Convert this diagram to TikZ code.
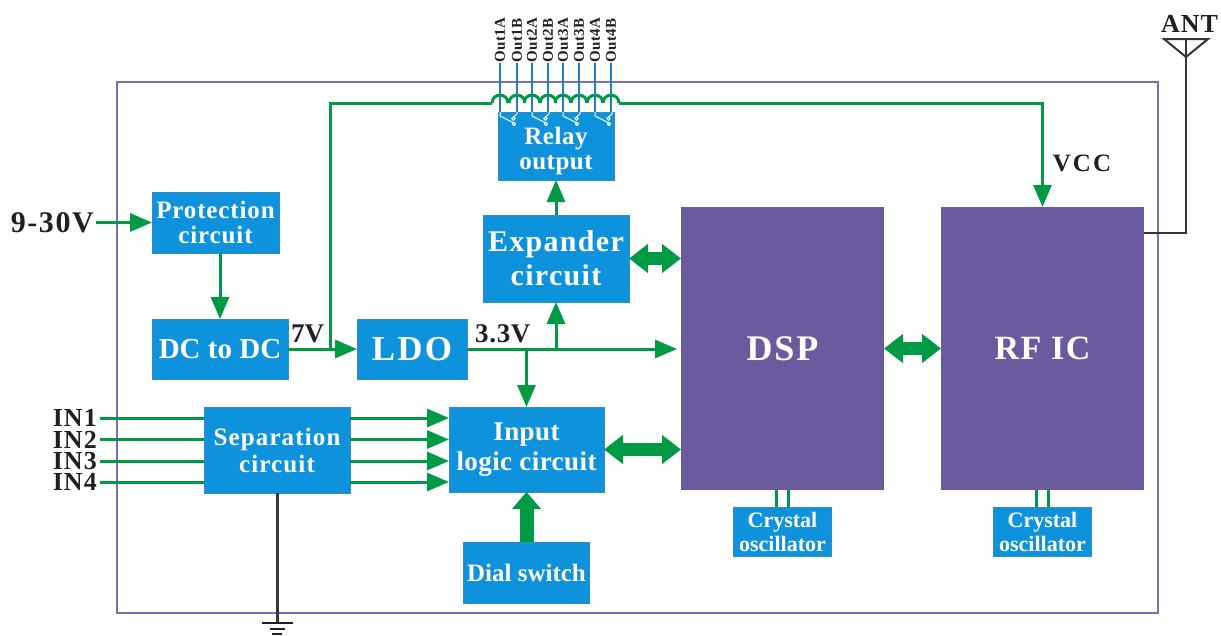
\documentclass[tikz,border=0pt]{standalone}
\usepackage{fontspec}
\setmainfont{Liberation Serif}
\usepackage{tikz}
\usetikzlibrary{arrows.meta,positioning}
\definecolor{blockblue}{HTML}{0F92DC}
\definecolor{chippurple}{HTML}{6B5B9E}
\definecolor{framepurple}{HTML}{7A6FB0}
\definecolor{wiregreen}{HTML}{009944}
\definecolor{pinblue}{HTML}{1F7FC4}
\definecolor{inkblack}{HTML}{231F20}
\newcommand{\fs}[3][0]{\fontsize{#2}{#3}\selectfont\bfseries\addfontfeatures{LetterSpace=#1}}
\tikzset{
    block/.style={draw=blockblue!70!gray, line width=0.8pt, fill=blockblue, text=white, align=center, inner sep=0pt, outer sep=0pt},
    chip/.style={fill=chippurple, text=white, inner sep=0pt, outer sep=0pt, minimum width=203pt, minimum height=283pt},
    xtal/.style={block, minimum width=98pt, minimum height=49pt, font={\fs{22}{24}}},
    lbl/.style={text=inkblack, inner sep=2pt},
    wire/.style={line width=3pt, wiregreen},
    sig/.style={wire, -{Triangle[length=22pt, width=18pt]}},
    bus/.style={line width=13pt, wiregreen, {Triangle[length=19pt, width=28pt]}-{Triangle[length=19pt, width=28pt]}},
    pin/.style={line width=1.6pt, pinblue},
    gndline/.style={line width=2pt, inkblack!90},
    contact/.style={line width=1pt, white}
}
\begin{document}
\begin{tikzpicture}[x=1pt, y=-1pt]
    \useasboundingbox (0,0) rectangle (1221,635);
    \draw[line width=2pt, framepurple] (117,82) rectangle (1158,613);

    \node[block, minimum width=127pt, minimum height=61pt, anchor=north west, font={\fs[3.5]{25}{25}}] (prot) at (152,192) {Protection\\circuit};
    \node[block, minimum width=136pt, minimum height=60pt, below=66pt of prot.south west, anchor=north west, font={\fs{29}{29}}] (dcdc) {DC to DC};
    \node[block, minimum width=110pt, minimum height=60pt, right=69pt of dcdc, font={\fs[6]{35}{35}}] (ldo) {LDO};
    \node[block, minimum width=146pt, minimum height=86pt, below=28pt of dcdc.south west, anchor=north west, xshift=52pt, font={\fs[4.5]{25}{27}}] (sep) {Separation\\circuit};
    \node[block, minimum width=155pt, minimum height=85pt, right=99pt of sep.north east, anchor=north west, font={\fs[1.6]{27}{30}}] (logic) {Input\\logic circuit};
    \node[block, minimum width=126pt, minimum height=61pt, below=50pt of logic, font={\fs{25}{25}}] (dial) {Dial switch};
    \node[block, minimum width=146pt, minimum height=87pt, above=105pt of logic.north, xshift=29.5pt, font={\fs[4.4]{30}{34}}] (exp) {Expander\\circuit};
    \node[block, minimum width=116pt, minimum height=68pt, above=35pt of exp, font={\fs[2]{25}{25}}] (relay) {\\[3pt]Relay\\output};
    \node[chip, right=52pt of exp.north east, anchor=north west, yshift=8pt, font={\fs[5.5]{36}{36}}] (dsp) {DSP};
    \node[chip, right=57pt of dsp, font={\fs[4]{34}{34}}] (rfic) {RF IC};
    \node[xtal, below=17pt of dsp.south] (xtala) {Crystal\\oscillator};
    \node[xtal, below=17pt of rfic.south] (xtalb) {Crystal\\oscillator};

    \node[lbl, left=56pt of prot, font={\fs[5.3]{30}{30}}] (vin) {9-30V};
    \node[lbl, anchor=south west, font={\fs{27}{27}}] (sevenv) at (289,345) {7V};
    \node[lbl, anchor=south west, font={\fs[2.5]{27}{27}}] (threev) at (473,345) {3.3V};
    \node[lbl, font={\fs[8]{25}{25}}] (vcc) at (1082,163) {VCC};
    \node[lbl, font={\fs[4]{26}{26}}] (ant) at (1189.5,24) {ANT};

    \foreach \i/\ypos in {1/418,2/439.5,3/461,4/482}{
        \node[lbl, inner sep=0pt, anchor=east, font={\fs[4]{26}{26}}] (in\i) at (97,\ypos) {IN\i};
        \draw[wire, shorten <=3pt] (in\i.east) -- (sep.west |- in\i.east);
        \draw[sig] (sep.east |- in\i.east) -- (logic.west |- in\i.east);
    }

    \foreach \lab/\xpos in {1A/500,1B/517,2A/532,2B/548,3A/563,3B/579,4A/595,4B/611}{
        \node[rotate=90, anchor=west, text=inkblack, inner sep=0pt, font={\fs[3]{15}{15}}] (out\lab) at (\xpos,63) {Out\lab};
        \draw[pin] (out\lab.west) -- (\xpos,112);
        \draw[wire] ({\xpos-7.85},103) .. controls ({\xpos-7.85},92.5) and ({\xpos+7.85},92.5) .. ({\xpos+7.85},103);
    }
    \foreach \xpos in {500,532,563,595}{
        \draw[contact] (\xpos,112) -- (\xpos,116) -- ({\xpos+13},122.5);
        \draw[contact] ({\xpos+17},112) -- ({\xpos+17},114) -- ({\xpos+13},117.5);
        \draw[contact] ({\xpos+14},124) circle (1.7pt);
        \draw[contact] ({\xpos+13.5},118.5) circle (1.7pt);
    }

    \coordinate[right=42pt of dcdc.east] (seven);
    \coordinate (hopin) at (492.15,103);
    \coordinate (hopout) at (618.85,103);
    \draw[wire] (seven) |- (hopin);
    \draw[sig] (hopout) -| (rfic.north);

    \draw[sig] (vin) -- (prot);
    \draw[sig] (dcdc.north |- prot.south) -- (dcdc.north);
    \draw[sig] (dcdc) -- (ldo);
    \coordinate (dspin) at (677,349);
    \draw[sig] (ldo.east) -- (dspin);
    \draw[sig] (exp.south |- ldo.east) -- (exp.south);
    \draw[sig] (logic.north |- ldo.east) -- (logic.north);
    \draw[sig] (exp) -- (relay);

    \draw[bus] (exp.east) -- (dsp.west |- exp.east);
    \draw[bus] (logic.east) -- (dsp.west |- logic.east);
    \draw[bus] (dsp) -- (rfic);
    \draw[line width=14pt, wiregreen, -{Triangle[length=17pt, width=28pt]}] (dial) -- (dial |- logic.south);

    \foreach \off in {-6,6}{
        \draw[wire] ([xshift=\off pt]xtala.north) -- ([xshift=\off pt]xtala.north |- dsp.south);
        \draw[wire] ([xshift=\off pt]xtalb.north) -- ([xshift=\off pt]xtalb.north |- rfic.south);
    }

    \coordinate (anttip) at (1186,57);
    \coordinate (antl) at (1164,39);
    \coordinate (antr) at (1208,39);
    \draw[gndline] (rfic.east |- 0,233) -| (antr -| anttip);
    \draw[gndline, line join=miter] (antl) -- (antr) -- (anttip) -- cycle;

    \coordinate[below=130pt of sep.south] (gnd);
    \draw[gndline, line width=3pt] (sep.south) -- (gnd);
    \draw[line width=1.5pt, inkblack] ([xshift=-15.5pt]gnd) -- ([xshift=15.5pt]gnd);
    \draw[line width=2pt, inkblack] ([xshift=-7.5pt, yshift=-6pt]gnd) -- ([xshift=7.5pt, yshift=-6pt]gnd);
    \draw[line width=2.5pt, inkblack] ([xshift=-5pt, yshift=-11pt]gnd) -- ([xshift=5pt, yshift=-11pt]gnd);
\end{tikzpicture}
\end{document}
